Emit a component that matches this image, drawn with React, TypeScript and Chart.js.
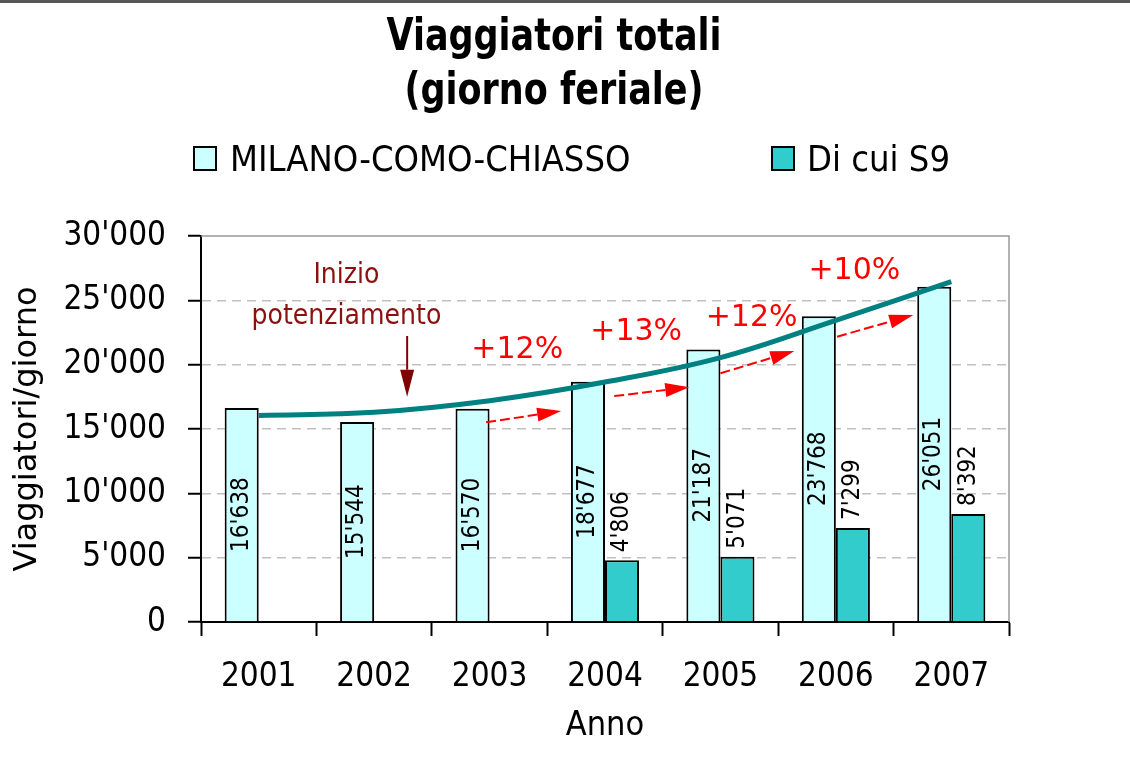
import React, { useEffect, useRef } from 'react';
import { Chart, registerables } from 'chart.js';

Chart.register(...registerables);

// ---------- data ----------
const years = ['2001', '2002', '2003', '2004', '2005', '2006', '2007'];
const milanoComoChiasso = [16638, 15544, 16570, 18677, 21187, 23768, 26051];
const diCuiS9: (number | null)[] = [null, null, null, 4806, 5071, 7299, 8392];
const trendValues = [16050, 16300, 17200, 18650, 20550, 23450, 26450];

const titleLines = ['Viaggiatori totali', '(giorno feriale)'];
const legendLabels = ['MILANO-COMO-CHIASSO', 'Di cui S9'];
const yAxisTitle = 'Viaggiatori/giorno';
const xAxisTitle = 'Anno';

// growth annotations: label text, label anchor [category index, value]
const growthLabels = ['+12%', '+13%', '+12%', '+10%'];
const growthLabelAnchors = [
  [2.24, 20520],
  [3.27, 21920],
  [4.27, 23000],
  [5.16, 26630],
];
// growth arrows: [startIndex, startValue, tipIndex, tipValue]
const growthArrows = [
  [1.97, 15520, 2.62, 16400],
  [3.08, 17560, 3.73, 18250],
  [4.0, 19330, 4.64, 21060],
  [5.01, 22170, 5.67, 23860],
];
const noteLines = ['Inizio', 'potenziamento'];
const noteAnchors = [
  [0.76, 26350],
  [0.76, 23160],
];
const noteArrow = [1.286, 22230, 1.286, 17510];

// ---------- styles ----------
const FONT_C = '"DejaVu Sans Condensed", "DejaVu Sans", sans-serif';
const FONT = '"DejaVu Sans", sans-serif';
const C_MCC = '#CCFFFF';
const C_S9 = '#33CCCC';
const C_TREND = '#008080';

function fmt(v: number): string {
  if (v < 1000) return String(v);
  const th = Math.floor(v / 1000);
  const rest = String(v % 1000).padStart(3, '0');
  return `${th}'${rest}`;
}

function drawArrow(ctx: CanvasRenderingContext2D, x1: number, y1: number, x2: number, y2: number, color: string, width: number, dash: number[], headLen: number, headHalf: number) {
  const dx = x2 - x1;
  const dy = y2 - y1;
  const len = Math.hypot(dx, dy);
  const ux = dx / len;
  const uy = dy / len;
  const bx = x2 - ux * headLen;
  const by = y2 - uy * headLen;
  ctx.save();
  ctx.strokeStyle = color;
  ctx.fillStyle = color;
  ctx.lineWidth = width;
  ctx.setLineDash(dash);
  ctx.beginPath();
  ctx.moveTo(x1, y1);
  ctx.lineTo(bx, by);
  ctx.stroke();
  ctx.setLineDash([]);
  ctx.beginPath();
  ctx.moveTo(x2, y2);
  ctx.lineTo(bx - uy * headHalf, by + ux * headHalf);
  ctx.lineTo(bx + uy * headHalf, by - ux * headHalf);
  ctx.closePath();
  ctx.fill();
  ctx.restore();
}

const decorPlugin = {
  id: 'decor',
  beforeDraw(chart: any) {
    const { ctx, width } = chart;
    ctx.save();
    ctx.fillStyle = '#ffffff';
    ctx.fillRect(0, 0, chart.width, chart.height);
    ctx.strokeStyle = '#555555';
    ctx.lineWidth = 3;
    ctx.beginPath();
    ctx.moveTo(0, 1.5);
    ctx.lineTo(width, 1.5);
    ctx.stroke();

    // title
    ctx.fillStyle = '#000';
    ctx.font = `bold 44px ${FONT_C}`;
    ctx.textAlign = 'center';
    ctx.textBaseline = 'alphabetic';
    const w1 = ctx.measureText(titleLines[0]).width;
    const sx = 335 / w1;
    const baselines = [50, 104];
    titleLines.forEach((t, i) => {
      ctx.save();
      ctx.translate(554, baselines[i]);
      ctx.scale(sx, 1);
      ctx.fillText(t, 0, 0);
      ctx.restore();
    });

    // legend
    const boxes = [
      { x: 194, fill: C_MCC, tx: 230 },
      { x: 772, fill: C_S9, tx: 807 },
    ];
    ctx.font = `36px ${FONT_C}`;
    ctx.textAlign = 'left';
    boxes.forEach((b, i) => {
      ctx.fillStyle = b.fill;
      ctx.fillRect(b.x, 147, 22, 23);
      ctx.strokeStyle = '#000';
      ctx.lineWidth = 2;
      ctx.strokeRect(b.x, 147, 22, 23);
      ctx.fillStyle = '#000';
      ctx.fillText(legendLabels[i], b.tx, 171);
    });
    ctx.restore();
  },
  beforeDatasetsDraw(chart: any) {
    const { ctx, chartArea } = chart;
    ctx.save();
    ctx.strokeStyle = '#999999';
    ctx.lineWidth = 1.5;
    ctx.beginPath();
    ctx.moveTo(chartArea.left, chartArea.top);
    ctx.lineTo(chartArea.right, chartArea.top);
    ctx.lineTo(chartArea.right, chartArea.bottom);
    ctx.stroke();
    ctx.restore();
  },
  afterDatasetsDraw(chart: any) {
    const { ctx } = chart;
    ctx.save();
    ctx.fillStyle = '#000';
    ctx.font = `24px ${FONT_C}`;
    ctx.textBaseline = 'middle';
    const m0 = chart.getDatasetMeta(0);
    m0.data.forEach((bar: any, i: number) => {
      const v = milanoComoChiasso[i];
      ctx.save();
      ctx.translate(bar.x, (bar.y + bar.base) / 2);
      ctx.rotate(-Math.PI / 2);
      ctx.textAlign = 'center';
      ctx.fillText(fmt(v), 0, 0);
      ctx.restore();
    });
    const m1 = chart.getDatasetMeta(1);
    m1.data.forEach((bar: any, i: number) => {
      const v = diCuiS9[i];
      if (v == null) return;
      ctx.save();
      ctx.translate(bar.x, bar.y - 8);
      ctx.rotate(-Math.PI / 2);
      ctx.textAlign = 'left';
      ctx.fillText(fmt(v), 0, 0);
      ctx.restore();
    });
    ctx.restore();
  },
  afterDraw(chart: any) {
    const { ctx } = chart;
    const xs = chart.scales.x;
    const ys = chart.scales.y;
    const px = (i: number) => xs.getPixelForValue(i);
    const py = (v: number) => ys.getPixelForValue(v);
    ctx.save();
    // growth arrows
    growthArrows.forEach((a) => {
      drawArrow(ctx, px(a[0]), py(a[1]), px(a[2]), py(a[3]), '#FF0000', 2, [10, 4], 24, 7);
    });
    // growth labels
    ctx.fillStyle = '#FF0000';
    ctx.font = `30px ${FONT}`;
    ctx.textAlign = 'center';
    ctx.textBaseline = 'alphabetic';
    growthLabels.forEach((t, i) => {
      ctx.fillText(t, px(growthLabelAnchors[i][0]), py(growthLabelAnchors[i][1]));
    });
    // note
    ctx.fillStyle = '#8B1010';
    ctx.font = `28px ${FONT_C}`;
    noteLines.forEach((t, i) => {
      ctx.fillText(t, px(noteAnchors[i][0]), py(noteAnchors[i][1]));
    });
    drawArrow(ctx, px(noteArrow[0]), py(noteArrow[1]), px(noteArrow[2]), py(noteArrow[3]), '#800000', 2, [], 27, 7);
    ctx.restore();
  },
};

export default function App() {
  const ref = useRef<HTMLCanvasElement>(null);
  useEffect(() => {
    if (!ref.current) return;
    const chart = new Chart(ref.current, {
      type: 'bar',
      data: {
        labels: years,
        datasets: [
          {
            type: 'bar',
            label: legendLabels[0],
            data: milanoComoChiasso,
            backgroundColor: C_MCC,
            borderColor: '#000',
            borderWidth: 2,
            categoryPercentage: 0.59,
            barPercentage: 1,
            order: 1,
          },
          {
            type: 'bar',
            label: legendLabels[1],
            data: diCuiS9,
            backgroundColor: C_S9,
            borderColor: '#000',
            borderWidth: 2,
            categoryPercentage: 0.59,
            barPercentage: 1,
            order: 1,
          },
          {
            type: 'line',
            label: 'Trend',
            data: trendValues,
            borderColor: C_TREND,
            borderWidth: 5,
            pointRadius: 0,
            tension: 0.4,
            fill: false,
            order: 0,
          } as any,
        ],
      },
      options: {
        responsive: false,
        animation: false,
        layout: { padding: { top: 236, right: 121, left: 0, bottom: 0 } },
        plugins: {
          legend: { display: false },
          title: { display: false },
          tooltip: { enabled: false },
        },
        scales: {
          x: {
            afterFit: (s: any) => {
              s.height = 137;
            },
            ticks: { font: { family: FONT_C, size: 33 }, color: '#000', padding: 22 },
            grid: {
              offset: true,
              drawOnChartArea: false,
              drawTicks: true,
              tickLength: 14,
              tickColor: '#000',
              tickWidth: 2,
            },
            border: { display: true, color: '#000', width: 2 },
            title: {
              display: true,
              text: xAxisTitle,
              font: { family: FONT_C, size: 34 },
              color: '#000',
              padding: { top: 0, bottom: 12 },
            },
          },
          y: {
            min: 0,
            max: 30000,
            afterFit: (s: any) => {
              s.width = 201;
            },
            ticks: {
              stepSize: 5000,
              font: { family: FONT_C, size: 33 },
              color: '#000',
              padding: 22,
              callback: (v: any) => fmt(Number(v)),
            },
            grid: {
              color: (c: any) =>
                c.tick && (c.tick.value === 0 || c.tick.value === 30000) ? 'rgba(0,0,0,0)' : '#c0c0c0',
              lineWidth: 1.5,
              tickColor: '#000',
              tickWidth: 2,
              tickLength: 13,
              tickBorderDash: [],
            },
            border: { display: true, color: '#000', width: 2, dash: [9, 6] },
            title: {
              display: true,
              text: yAxisTitle,
              font: { family: FONT, size: 32 },
              color: '#000',
              padding: { top: 8, bottom: 0 },
            },
          },
        },
      } as any,
      plugins: [decorPlugin],
    });
    return () => chart.destroy();
  }, []);
  return (
    <div style={{ position: 'absolute', left: 0, top: 0, width: 1130, height: 759, background: '#fff' }}>
      <canvas ref={ref} width={1130} height={759} style={{ display: 'block' }} />
    </div>
  );
}
